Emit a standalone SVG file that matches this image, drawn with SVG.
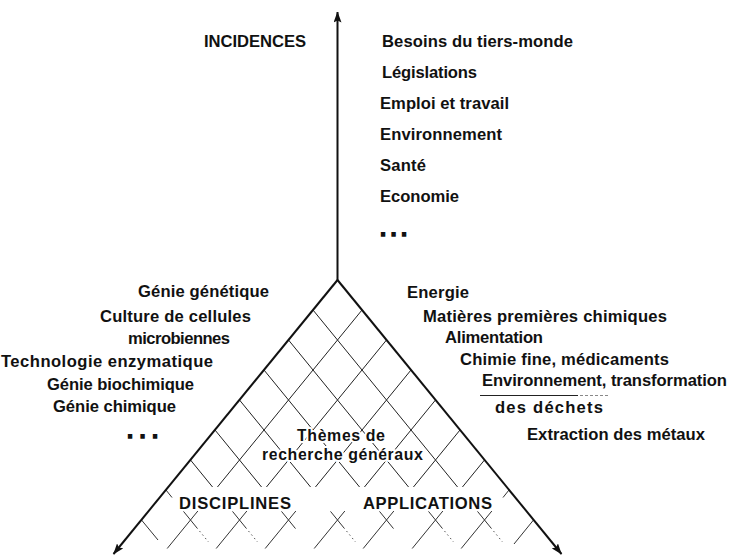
<svg xmlns="http://www.w3.org/2000/svg" width="732" height="556" viewBox="0 0 732 556">
  <style>
    .lbl { font-family: "Liberation Sans", Arial, Helvetica, sans-serif; font-weight: bold; font-size: 16.6px; fill: #111; }
    .inner { font-size: 16px; }
    .dots { font-family: "Liberation Sans", Arial, sans-serif; font-weight: bold; font-size: 22px; fill: #111; stroke: #111; stroke-width: 1.3px; }
    .halo { stroke: #fff; stroke-width: 4px; stroke-linejoin: round; paint-order: stroke; }
    .axis { stroke: #111; stroke-width: 2; fill: none; }
    .grid { stroke: #222; stroke-width: 1; fill: none; }
    .frag { stroke: #333; stroke-width: 1; fill: none; }
    .dotted { stroke: #555; stroke-width: 1; fill: none; stroke-dasharray: 1.5 3; }
  </style>
  <defs>
    <marker id="arrow" viewBox="0 0 11 8" refX="10.5" refY="4" markerWidth="11" markerHeight="8" markerUnits="userSpaceOnUse" orient="auto">
      <path d="M0,0 L11,4 L0,8 L2,4 z" fill="#111"/>
    </marker>
  </defs>
  <rect width="732" height="556" fill="#fff"/>

  <!-- lattice inside the triangle -->
  <g id="lattice">
    <g class="grid">
      <line x1="313" y1="310" x2="457.55" y2="487"/>
      <line x1="288.5" y1="340" x2="408.55" y2="487"/>
      <line x1="264" y1="370" x2="359.55" y2="487"/>
      <line x1="239.5" y1="400" x2="310.55" y2="487"/>
      <line x1="215" y1="430" x2="261.55" y2="487"/>
      <line x1="190.5" y1="460" x2="212.55" y2="487"/>
      <line x1="362" y1="310" x2="217.45" y2="487"/>
      <line x1="386.5" y1="340" x2="266.45" y2="487"/>
      <line x1="411" y1="370" x2="315.45" y2="487"/>
      <line x1="435.5" y1="400" x2="364.45" y2="487"/>
      <line x1="460" y1="430" x2="413.45" y2="487"/>
      <line x1="484.5" y1="460" x2="462.45" y2="487"/>
    </g>
    <!-- broken lower rows -->
    <g class="frag">
      <line x1="166" y1="490" x2="172" y2="497.5"/>
      <line x1="509" y1="490" x2="503" y2="497.5"/>
      <line x1="141.5" y1="520" x2="158" y2="540"/>
      <line x1="533.5" y1="520" x2="514" y2="544"/>
      <path d="M197.85,511 L167.2,548.5 M183.5,511.4 L197.5,528.6"/>
      <path d="M246.85,511 L216.2,548.5 M232.5,511.4 L246.5,528.6"/>
      <path d="M295.85,511 L265.2,548.5 M281.5,511.4 L295.5,528.6"/>
      <path d="M344.85,511 L314.2,548.5 M330.5,511.4 L344.5,528.6"/>
      <path d="M393.85,511 L363.2,548.5 M379.5,511.4 L393.5,528.6"/>
      <path d="M442.85,511 L412.2,548.5 M428.5,511.4 L442.5,528.6"/>
      <path d="M491.85,511 L461.2,548.5 M477.5,511.4 L491.5,528.6"/>
    </g>
    <g class="dotted">
      <line x1="199.5" y1="531" x2="208.5" y2="542"/>
      <line x1="248.5" y1="531" x2="257.5" y2="542"/>
      <line x1="346.5" y1="531" x2="355.5" y2="542"/>
      <line x1="444.5" y1="531" x2="453.5" y2="542"/>
      <line x1="493.5" y1="531" x2="502.5" y2="542"/>
    </g>
  </g>

  <!-- the three axes -->
  <g id="connectors">
    <line class="axis" x1="337.5" y1="281" x2="337.5" y2="12" marker-end="url(#arrow)"/>
    <line class="axis" x1="337.5" y1="280" x2="113.5" y2="554" marker-end="url(#arrow)"/>
    <line class="axis" x1="337.5" y1="280" x2="561.5" y2="554" marker-end="url(#arrow)"/>
  </g>

  <g id="incidences">
    <text class="lbl" x="204" y="47" textLength="102" lengthAdjust="spacing">INCIDENCES</text>
    <text class="lbl" x="382" y="47" textLength="191" lengthAdjust="spacing">Besoins du tiers-monde</text>
    <text class="lbl" x="382" y="78" textLength="95" lengthAdjust="spacing">Législations</text>
    <text class="lbl" x="380" y="109" textLength="129" lengthAdjust="spacing">Emploi et travail</text>
    <text class="lbl" x="380" y="140" textLength="122" lengthAdjust="spacing">Environnement</text>
    <text class="lbl" x="380" y="171" textLength="46" lengthAdjust="spacing">Santé</text>
    <text class="lbl" x="380" y="202" textLength="79" lengthAdjust="spacing">Economie</text>
    <text class="dots" x="380" y="236" textLength="27" lengthAdjust="spacing">...</text>
  </g>

  <g id="disciplines">
    <text class="lbl" x="138" y="297" textLength="131" lengthAdjust="spacing">Génie génétique</text>
    <text class="lbl" x="100" y="322" textLength="151" lengthAdjust="spacing">Culture de cellules</text>
    <text class="lbl" x="128" y="344" textLength="102" lengthAdjust="spacing">microbiennes</text>
    <text class="lbl" x="1" y="367" textLength="212" lengthAdjust="spacing">Technologie enzymatique</text>
    <text class="lbl" x="47" y="390" textLength="147" lengthAdjust="spacing">Génie biochimique</text>
    <text class="lbl" x="53" y="412" textLength="123" lengthAdjust="spacing">Génie chimique</text>
    <text class="dots" x="127" y="438" textLength="31" lengthAdjust="spacing">...</text>
    <text class="lbl" x="179" y="509" textLength="112" lengthAdjust="spacing">DISCIPLINES</text>
  </g>

  <g id="applications">
    <text class="lbl" x="407" y="298" textLength="62" lengthAdjust="spacing">Energie</text>
    <text class="lbl" x="423" y="322" textLength="244" lengthAdjust="spacing">Matières premières chimiques</text>
    <text class="lbl" x="445" y="343" textLength="98" lengthAdjust="spacing">Alimentation</text>
    <text class="lbl" x="460" y="365" textLength="209" lengthAdjust="spacing">Chimie fine, médicaments</text>
    <text class="lbl" x="482" y="386" textLength="245" lengthAdjust="spacing">Environnement, transformation</text>
    <line x1="480" y1="395.5" x2="578" y2="395.5" stroke="#222" stroke-width="1.2"/>
    <line x1="580" y1="395.5" x2="610" y2="395.5" stroke="#888" stroke-width="1" stroke-dasharray="3 2"/>
    <text class="lbl" x="495" y="413" textLength="108" lengthAdjust="spacing">des déchets</text>
    <text class="lbl" x="527" y="440" textLength="178" lengthAdjust="spacing">Extraction des métaux</text>
    <text class="lbl" x="363" y="509" textLength="129" lengthAdjust="spacing">APPLICATIONS</text>
  </g>

  <g id="themes">
    <text class="lbl inner halo" x="297" y="441" textLength="88" lengthAdjust="spacing">Thèmes de</text>
    <text class="lbl inner halo" x="262" y="460" textLength="161" lengthAdjust="spacing">recherche généraux</text>
  </g>
</svg>
